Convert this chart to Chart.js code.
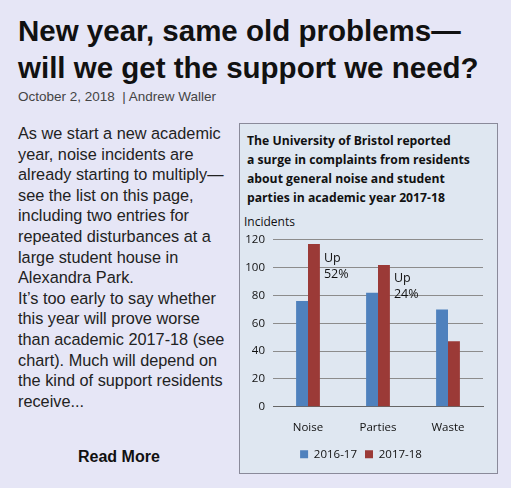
<!DOCTYPE html>
<html><head><meta charset="utf-8">
<script src="https://cdn.jsdelivr.net/npm/chart.js@4"></script>
<style>
body{margin:0;background:#e6e6f6;width:511px;height:488px;overflow:hidden;font-family:"Liberation Sans",Arial,sans-serif;position:relative}
h1{position:absolute;left:18px;top:12px;margin:0;font-size:29.5px;line-height:37px;font-weight:bold;color:#111;width:500px;white-space:nowrap}
.date{position:absolute;left:18px;top:89px;font-size:13.5px;color:#444}
.body{position:absolute;left:18px;top:123px;width:210px;font-size:16.3px;line-height:20.6px;color:#222}
.more{position:absolute;left:78px;top:448px;font-size:16px;font-weight:bold;color:#111}
.box{position:absolute;left:239px;top:123px;width:257px;height:349px;background:#dfe7f1;border:1px solid #8a8a9a}
.ct{position:absolute;left:7px;top:7px;font-family:"Open Sans",sans-serif;font-weight:bold;font-size:12.2px;line-height:19px;color:#111}
.inc{position:absolute;left:4px;top:89px;font-family:"Open Sans",sans-serif;font-size:12px;color:#111}
canvas{position:absolute;left:239px;top:225px}
</style></head><body>
<h1>New year, same old problems—<br>will we get the support we need?</h1>
<div class="date">October 2, 2018 &nbsp;| Andrew Waller</div>
<div class="body">As we start a new academic year, noise incidents are already starting to multiply—see the list on this page, including two entries for repeated disturbances at a large student house in Alexandra Park.<br>It’s too early to say whether this year will prove worse than academic 2017-18 (see chart). Much will depend on the kind of support residents receive...</div>
<div class="more">Read More</div>
<div class="box"><div class="ct">The University of Bristol reported<br>a surge in complaints from residents<br>about general noise and student<br>parties in academic year 2017-18</div><div class="inc">Incidents</div></div>
<canvas id="c" width="258" height="245" style="width:258px;height:245px"></canvas>
<script>
const categories=["Noise","Parties","Waste"];
const s2016=[76,82,70];
const s2017=[117,102,47];
const notes=[["Up","52%"],["Up","24%"],null];
const yTicks=[0,20,40,60,80,100,120];
const ann={id:'ann',afterDatasetsDraw(ch){const c=ch.ctx,m=ch.getDatasetMeta(1);c.save();c.font='12.5px "Open Sans"';c.fillStyle='#111';
notes.forEach((n,i)=>{if(!n)return;const b=m.data[i];const x=b.x+b.width/2+4,y=ch.scales.y.getPixelForValue(s2017[i])+14;c.fillText(n[0],x,y);c.fillText(n[1],x,y+16);});c.restore();}};
new Chart(document.getElementById('c'),{type:'bar',
data:{labels:categories,datasets:[
{label:'2016-17',data:s2016,backgroundColor:'#4f81bd'},
{label:'2017-18',data:s2017,backgroundColor:'#9b3a37'}]},
options:{responsive:false,animation:false,layout:{padding:{top:10,right:14,left:0,bottom:0}},
datasets:{bar:{barPercentage:1,categoryPercentage:0.34}},
plugins:{legend:{position:'bottom',labels:{boxWidth:8,boxHeight:8,font:{size:11.5,family:'"Open Sans"'},color:'#111',padding:8}},tooltip:{enabled:false}},
scales:{y:{min:0,max:120,afterBuildTicks(a){a.ticks=yTicks.map(v=>({value:v}));},afterFit(a){a.width=34;},
ticks:{font:{size:11.5,family:'"Open Sans"'},color:'#111',padding:8},grid:{color:'#8c8c8c',drawTicks:false},border:{display:false}},
x:{grid:{display:false},border:{color:'#666'},ticks:{font:{size:11.5,family:'"Open Sans"'},color:'#111',padding:6}}}},
plugins:[ann]});
</script></body></html>
